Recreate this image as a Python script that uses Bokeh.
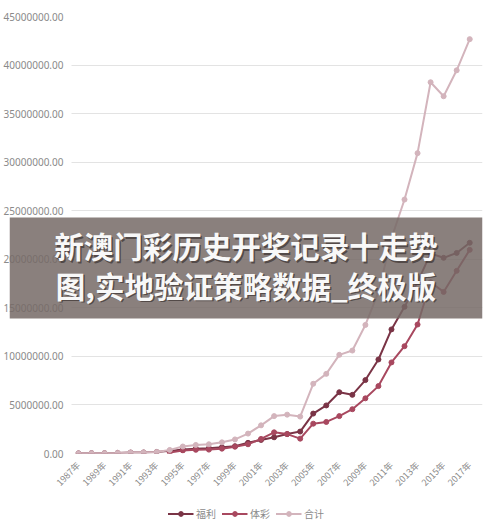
import numpy as np
from bokeh.plotting import figure
from bokeh.layouts import column
from bokeh.models import (ColumnDataSource, Range1d, FixedTicker, NumeralTickFormatter,
                          Legend, LegendItem, BoxAnnotation, Label)
from bokeh.embed import file_html
from bokeh.resources import INLINE

years = list(range(1987, 2018))
nan = float("nan")
fuli = [17000, 38000, 38000, 64000, 100000, 110000, 160000, 270000, 400000, 500000,
        550000, 650000, 750000, 1100000, 1400000, 1670000, 2000000, 2260000, 4110000,
        4950000, 6310000, 6040000, 7560000, 9680000, 12780000, 15100000, 17650000,
        20600000, 20150000, 20650000, 21700000]
ticai = [nan, nan, nan, nan, nan, nan, nan, 100000, 320000, 380000,
         400000, 500000, 700000, 950000, 1500000, 2180000, 2000000, 1530000, 3070000,
         3250000, 3850000, 4560000, 5680000, 6940000, 9380000, 11050000, 13280000,
         17630000, 16640000, 18810000, 20970000]
heji = [17000, 38000, 38000, 64000, 100000, 110000, 160000, 370000, 720000, 880000,
        950000, 1150000, 1450000, 2050000, 2900000, 3850000, 4000000, 3800000, 7180000,
        8200000, 10160000, 10600000, 13240000, 16620000, 22160000, 26150000, 30930000,
        38230000, 36790000, 39460000, 42670000]
series_names = ["福利", "体彩", "合计"]
y_ticks = [0, 5000000, 10000000, 15000000, 20000000, 25000000, 30000000, 35000000, 40000000, 45000000]
x_ticks = list(range(1987, 2018, 2))
x_labels = {y: f"{y}年" for y in x_ticks}
title_lines = ["新澳门彩历史开奖记录十走势", "图,实地验证策略数据_终极版"]

colors = ["#7a3446", "#a8485f", "#d3b4bc"]
keys = ["fuli", "ticai", "heji"]

src = ColumnDataSource(dict(year=years, fuli=fuli, ticai=ticai, heji=heji))

X0, X1 = 1981.71, 2017.98
p = figure(width=483, height=496, output_backend="svg", toolbar_location=None,
           x_range=Range1d(X0, X1), y_range=Range1d(0, 45000000),
           min_border_left=0, min_border_right=1, min_border_top=16, min_border_bottom=43)
p.outline_line_color = None
p.background_fill_color = "white"
p.border_fill_color = "white"

p.xgrid.grid_line_color = None
p.ygrid.grid_line_color = "#e3e3e3"
p.ygrid.grid_line_width = 1
p.ygrid.cross_bounds = (1986.5, X1)

p.yaxis.ticker = FixedTicker(ticks=y_ticks)
p.yaxis.formatter = NumeralTickFormatter(format="0.00")
p.yaxis.axis_line_color = None
p.yaxis.major_tick_line_color = None
p.yaxis.minor_tick_line_color = None
p.yaxis.major_label_text_font = "Noto Sans"
p.yaxis.major_label_text_font_size = "10px"
p.yaxis.major_label_text_color = "#8a8a8a"
p.yaxis.major_label_standoff = -60

p.xaxis.ticker = FixedTicker(ticks=x_ticks)
p.xaxis.major_label_overrides = x_labels
p.xaxis.major_label_orientation = np.pi / 4
p.xaxis.axis_line_color = None
p.xaxis.major_tick_line_color = None
p.xaxis.minor_tick_line_color = None
p.xaxis.major_label_text_font = "Noto Sans CJK SC"
p.xaxis.major_label_text_font_size = "9px"
p.xaxis.major_label_text_color = "#8a8a8a"
p.xaxis.major_label_standoff = 4

for key, c in zip(keys, colors):
    p.line("year", key, source=src, line_color=c, line_width=2)
    p.scatter("year", key, source=src, size=5, fill_color=c, line_color=c)

band = BoxAnnotation(bottom=13900000, top=24300000,
                     fill_color="#766a66", fill_alpha=0.85, line_color=None)
p.add_layout(band)

cx = 1987 + (242 - 72) / 13.233
for txt, yv in zip(title_lines, [21420000, 17400000]):
    shadow = Label(x=cx, y=yv, text=txt, text_align="center", text_baseline="middle",
                   x_offset=1.5, y_offset=-1.5,
                   text_font="Noto Sans CJK SC", text_font_style="bold",
                   text_font_size="29.5px", text_color="#3a3230", text_alpha=0.7)
    lab = Label(x=cx, y=yv, text=txt, text_align="center", text_baseline="middle",
                text_font="Noto Sans CJK SC", text_font_style="bold",
                text_font_size="29.5px", text_color="#f8f8f8")
    p.add_layout(shadow)
    p.add_layout(lab)

# legend strip (its renderers use the same data, outside this strip's ranges)
lp = figure(width=483, height=34, output_backend="svg", toolbar_location=None,
            x_range=Range1d(0, 1), y_range=Range1d(0, 1), min_border=0)
lp.axis.visible = False
lp.grid.grid_line_color = None
lp.outline_line_color = None
items = []
for key, name, c in zip(keys, series_names, colors):
    l = lp.line("year", key, source=src, line_color=c, line_width=2)
    s = lp.scatter("year", key, source=src, size=5, fill_color=c, line_color=c)
    items.append(LegendItem(label=name, renderers=[l, s]))
legend = Legend(items=items, orientation="horizontal", location="center",
                glyph_width=26, glyph_height=12, label_standoff=3, spacing=5,
                padding=2, margin=0, background_fill_alpha=0, border_line_color=None,
                label_text_font="Noto Sans CJK SC", label_text_font_size="10px",
                label_text_color="#8a8a8a")
lp.add_layout(legend, "center")

layout = column(p, lp, spacing=0)
open("out.html", "w").write(file_html(layout, INLINE))
